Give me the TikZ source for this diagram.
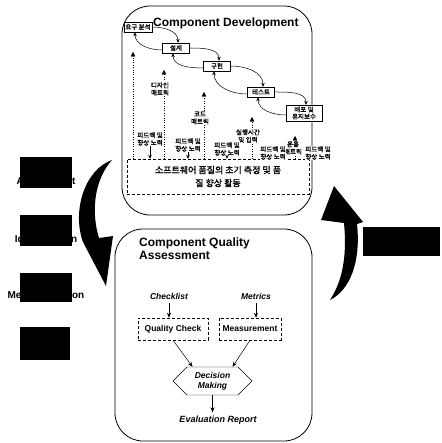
\documentclass[tikz,border=0pt]{standalone}
\usepackage{fontspec}
\setmainfont{Liberation Sans}
\newfontfamily\kr{Noto Sans CJK KR}[AutoFakeBold=1.5]
\usetikzlibrary{arrows.meta,shapes.symbols}
\newcommand{\blot}[4]{\node[tag] (#1) at (46,#3) {#4}; \fill (20,#2) rectangle (72,#3-7);}

\begin{document}
\begin{tikzpicture}[x=1pt,y=1pt,
  panel/.style={draw,line width=0.8pt,rounded corners=28pt},
  phase/.style={draw,fill=white,inner sep=1.5pt,minimum height=10pt,minimum width=27pt,font=\kr\fontsize{6.5}{7}\selectfont\bfseries,align=center},
  small/.style={font=\kr\fontsize{6.5}{7.5}\selectfont\bfseries,align=center,inner sep=0.5pt},
  flow/.style={-{Stealth[length=4pt,width=3.5pt]},line width=0.5pt},
  up/.style={dotted,line width=0.4pt,-{Triangle[length=4.5pt,width=4.5pt]}},
  tag/.style={font=\bfseries\fontsize{10}{12}\selectfont},
  note/.style={font=\bfseries\itshape\fontsize{8.5}{10}\selectfont},
  box/.style={draw,densely dashed,font=\bfseries\fontsize{8.5}{10}\selectfont,minimum height=22pt},
  arr/.style={-{Stealth[length=5pt,width=4pt]},line width=0.5pt}]
\useasboundingbox (0,0) rectangle (441,-443);
% the two panels
\node[panel,minimum width=190pt,minimum height=209pt] (dev) at (217,-110.5) {};
\node[panel,minimum width=197pt,minimum height=212pt] (cqa) at (213.5,-335) {};
\node[anchor=base west,font=\bfseries\fontsize{12}{14}\selectfont,inner sep=0] (devt) at (153,-26.5) {Component Development};
\node[anchor=north west,align=left,font=\bfseries\fontsize{12}{13}\selectfont,inner sep=0] (cqat) at (139,-238) {Component Quality\\Assessment};

% development phases
\foreach \n/\x/\y/\t in {req/138/27/요구 분석,des/176/48/설계,imp/217/66/구현,tst/261/92/테스트}
  \node[phase] (\n) at (\x,-\y) {\t};
\node[phase,minimum width=36pt] (dep) at (304,-113) {배포 및\\유지보수};
\foreach \a/\b in {req/des,des/imp,imp/tst,tst/dep}{
  \draw[flow] (\a.east) to[out=0,in=90] ([xshift=2pt]\b.north);
  \draw[flow] ([yshift=-2pt]\b.west) to[out=180,in=-90] ([xshift=-3pt]\a.south);
}

% early measurement box and metric feedback
\node[draw,densely dashed,font=\kr\fontsize{9}{13}\selectfont\bfseries,align=center,minimum width=182pt,minimum height=35pt,inner sep=2pt] (soft) at (218,-176.5) {소프트웨어 품질의 초기 측정 및 품\\질 향상 활동};
\foreach \n/\x/\y in {c1/133/52,c2/164/70,c3/204/92,c4/252/117,c5/295/136}{
  \coordinate (\n) at (\x,-\y);
  \draw[up] (\n |- soft.north) -- (\n);
}
\foreach \n/\x/\y/\t in {m2/160/89/디자인\\매트릭,m3/200/118/코드\\매트릭,m4/248/136/실행시간\\및 입력,m5/293/148/운용\\매트릭}
  \node[small,fill=white] (\n) at (\x,-\y) {\t};
\foreach \n/\x/\y in {f1/150/139,f2/188/145,f3/227/149,f4/273/153,f5/318/153}
  \node[small,fill=white] (\n) at (\x,-\y) {피드백 및\\향상 노력};
\foreach \n in {f1,f2,f3}
  \draw[flow] (\n.south) -- (\n.south |- soft.north);

% quality assessment
\node[note] (chk) at (169,-296) {Checklist};
\node[note] (met) at (256,-296) {Metrics};
\node[box,minimum width=70pt] (qc) at (173,-329) {Quality Check};
\node[box,minimum width=60pt] (ms) at (250,-329) {Measurement};
\node[signal,signal to=east and west,draw,note,align=center,minimum width=79pt,minimum height=28pt,inner sep=1pt] (dec) at (212.5,-381) {Decision\\Making};
\node[note,font=\bfseries\itshape\fontsize{9}{10}\selectfont] (rep) at (218,-420) {Evaluation Report};
\draw[arr] (chk) -- (chk |- qc.north);
\draw[arr] (met) -- (met |- ms.north);
\draw[arr] (qc.south) -- ([xshift=-20pt]dec.north);
\draw[arr] (ms.south) -- ([xshift=20pt]dec.north);
\draw[arr] (dec.south) -- (dec.south |- rep.north);

% blacked out side labels
\blot{a1}{-157}{-181}{Assessment}
\blot{a2}{-215}{-239}{Identification}
\blot{a3}{-273}{-295}{Metric Selection}
\fill (20,-327) rectangle (70,-360);
\fill (363,-227) rectangle (440,-256);

% big cycle arrows
\fill (112,-160) .. controls (84,-170) and (72,-212) .. (83,-242) -- (106,-286) -- (113,-236) -- (99,-238) .. controls (91,-212) and (94,-180) .. cycle;
\fill (330,-300) .. controls (350,-290) and (361,-262) .. (357,-224) -- (363,-222) -- (334,-186) -- (321,-220) -- (344,-223) .. controls (347,-255) and (343,-280) .. cycle;
\end{tikzpicture}
\end{document}
